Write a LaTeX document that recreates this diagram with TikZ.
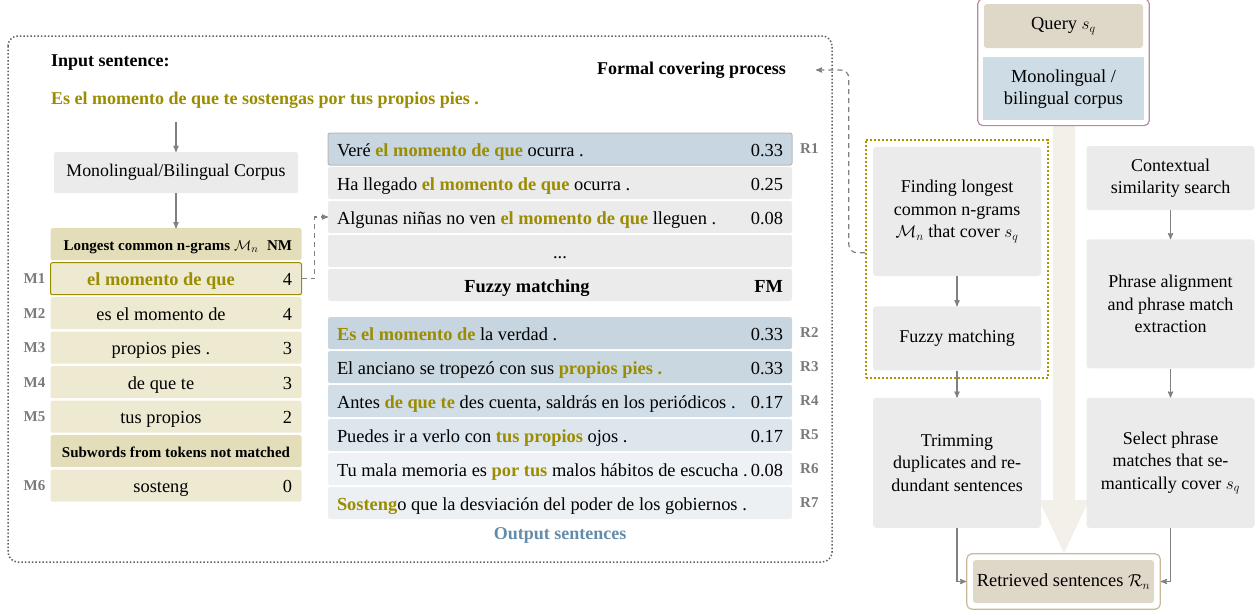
\documentclass[tikz,border=0pt]{standalone}
\usepackage{fontspec}
\setmainfont{Liberation Serif}
\usepackage{tikz}
\usetikzlibrary{arrows,positioning,fit}

\definecolor{boxgray}{RGB}{235,235,235}
\definecolor{ngramtxt}{RGB}{155,140,0}
\definecolor{ngrambg}{RGB}{238,234,210}
\definecolor{ngramhead}{RGB}{227,222,185}
\definecolor{tagtxt}{RGB}{122,122,122}
\definecolor{linegray}{RGB}{128,128,128}
\definecolor{simhi}{RGB}{199,214,224}
\definecolor{out2}{RGB}{198,213,223}
\definecolor{out3}{RGB}{201,215,225}
\definecolor{out4}{RGB}{210,222,231}
\definecolor{out5}{RGB}{221,230,237}
\definecolor{out6}{RGB}{238,242,246}
\definecolor{out7}{RGB}{236,240,243}
\definecolor{outtxt}{RGB}{100,140,170}
\definecolor{querybg}{RGB}{223,216,200}
\definecolor{corpusbg}{RGB}{205,220,229}
\definecolor{queryborder}{RGB}{180,140,155}
\definecolor{retborder}{RGB}{200,185,155}
\definecolor{flowarrow}{RGB}{243,240,234}
\definecolor{fmdots}{RGB}{170,150,0}

% matched words are set bold in olive
\newcommand{\matchw}[1]{\textbf{\color{ngramtxt}#1}}
% n-gram cell: n-gram in the middle, count on the right
\newcommand{\ngtext}[2]{\makebox[202pt]{#1}\makebox[30pt][r]{#2}}
% sentence cell: sentence left, score right
\newcommand{\fmtext}[2]{\hbox to 446pt{#1\hfill#2}}

\begin{document}
\begin{tikzpicture}[x=1pt,y=-1pt,>=stealth',
  font=\fontsize{18.4}{22.5}\selectfont,
  lbl/.style={inner sep=0pt},
  headlbl/.style={inner sep=0pt,font=\fontsize{18}{21}\selectfont\bfseries},
  rowtag/.style={inner sep=0pt,text=tagtxt,font=\fontsize{15}{18}\selectfont\bfseries},
  graybox/.style={fill=boxgray,rounded corners=2pt},
  ngrow/.style={fill=ngrambg,rounded corners=2pt,minimum width=251,minimum height=32,
    text height=15pt,text depth=1pt,inner sep=2pt,outer sep=0pt},
  nghead/.style={ngrow,fill=ngramhead,font=\fontsize{15}{18}\selectfont\bfseries,
    text height=13pt,text depth=1pt},
  fmrow/.style={fill=boxgray,rounded corners=2pt,minimum width=464,minimum height=32,
    text height=15pt,text depth=1pt,inner xsep=9pt,inner ysep=2pt,outer sep=0pt},
  flowbox/.style={graybox,rounded corners=3pt,minimum width=168,align=center,
    font=\fontsize{18}{22.5}\selectfont},
  link/.style={->,draw=linegray,line width=1.2pt},
  dashlink/.style={link,dash pattern=on 5pt off 4pt}]

  \useasboundingbox (0,0) rectangle (1258,613);

  % wide arrow behind the retrieval pipeline
  \fill[flowarrow] (1053,126) -- (1075,126) -- (1075,500) -- (1089,500)
    -- (1064,553) -- (1039,500) -- (1053,500) -- cycle;

  % formal covering example
  \draw[gray!75!black,dotted,line width=1.5pt,rounded corners=10pt] (8,36) rectangle (832,562);

  \node (insent) [headlbl,anchor=west] at (51,63) {Input sentence:};
  \node (inq) [headlbl,anchor=west] at (51,100)
    {\matchw{Es el momento de que te sostengas por tus propios pies .}};
  \node (fcp) [headlbl,anchor=east] at (786,70) {Formal covering process};

  \coordinate (inqdrop) at (176,122);
  \node (lcorpus) [graybox,minimum width=244,minimum height=41,font=\fontsize{17.8}{21}\selectfont]
    at (176,172.5) {Monolingual/Bilingual Corpus};

  % n-gram table
  \node (nghd) [nghead,below=35pt of lcorpus]
    {\ngtext{Longest common n-grams $\mathcal{M}_n$}{NM}};
  \node (m1) [ngrow,draw=ngramtxt,line width=1pt,below=2.5pt of nghd]
    {\ngtext{\matchw{el momento de que}}{4}};
  \foreach \ng/\nm [count=\i from 2] in
    {es el momento de/4, propios pies ./3, de que te/3, tus propios/2}
  {
    \pgfmathtruncatemacro\prev{\i-1}
    \node (m\i) [ngrow,below=2.5pt of m\prev] {\ngtext{\ng}{\nm}};
  }
  \node (subhd) [nghead,below=2.5pt of m5] {Subwords from tokens not matched};
  \node (m6) [ngrow,below=2.5pt of subhd] {\ngtext{sosteng}{0}};
  \foreach \i in {1,...,6}
    \node [rowtag,left=5pt of m\i] {M\i};

  % fuzzy matching table
  \node (r1) [fmrow,draw=gray!55,line width=1pt,fill=simhi,anchor=north west] at (328,133)
    {\fmtext{Veré \matchw{el momento de que} ocurra .}{0.33}};
  \node (fm2) [fmrow,below=2pt of r1]
    {\fmtext{Ha llegado \matchw{el momento de que} ocurra .}{0.25}};
  \node (fm3) [fmrow,below=2pt of fm2]
    {\fmtext{Algunas niñas no ven \matchw{el momento de que} lleguen .}{0.08}};
  \node (fmdots) [fmrow,below=2pt of fm3] {...};
  \node (fmhd) [fmrow,below=2pt of fmdots]
    {\fmtext{\makebox[380pt]{\bfseries Fuzzy matching}}{\bfseries FM}};

  % output sentences
  \node (r2) [fmrow,fill=out2,below=16pt of fmhd]
    {\fmtext{\matchw{Es el momento de} la verdad .}{0.33}};
  \foreach \snt/\sc/\bg [count=\i from 3] in
    {{El anciano se tropezó con sus \matchw{propios pies .}}/0.33/out3,
     {Antes \matchw{de que te} des cuenta, saldrás en los periódicos .}/0.17/out4,
     {Puedes ir a verlo con \matchw{tus propios} ojos .}/0.17/out5,
     {Tu mala memoria es \matchw{por tus} malos hábitos de escucha .}/0.08/out6,
     {\matchw{Sosteng}o que la desviación del poder de los gobiernos .}//out7}
  {
    \pgfmathtruncatemacro\prev{\i-1}
    \node (r\i) [fmrow,fill=\bg,below=2pt of r\prev] {\fmtext{\snt}{\sc}};
  }
  \foreach \i in {1,...,7}
    \node [rowtag,right=8pt of r\i] {R\i};
  \node (outlbl) [headlbl,text=outtxt,below=8pt of r7] {Output sentences};

  \draw[link] (inqdrop) -- (lcorpus);
  \draw[link] (lcorpus) -- (nghd);
  \draw[dashlink] (m1.east) -- ++(13,0) |- (fm3.west);

  % retrieval pipeline
  \node (query) [fill=querybg,rounded corners=3pt,minimum width=159,minimum height=44]
    at (1063.5,26) {Query $s_q$};
  \node (corpus) [fill=corpusbg,minimum width=161,minimum height=63,align=center,
    below=9pt of query] {Monolingual /\\bilingual corpus};
  \node (qframe) [draw=queryborder,rounded corners=5pt,line width=1.2pt,
    fit=(query)(corpus),inner sep=5pt] {};

  \node (find) [flowbox,minimum height=129] at (957,211.5)
    {Finding longest\\common n-grams\\$\mathcal{M}_n$ that cover $s_q$};
  \node (fuzzy) [flowbox,minimum height=64,below=30pt of find] {Fuzzy matching};
  \node (trim) [flowbox,minimum height=130,below=27pt of fuzzy]
    {Trimming\\duplicates and re-\\dundant sentences};
  \node (fmframe) [draw=fmdots,dotted,line width=2pt,fit=(find)(fuzzy),inner sep=7pt] {};

  \node (ctx) [flowbox,minimum height=64] at (1170.5,178) {Contextual\\similarity search};
  \node (align) [flowbox,minimum height=129,below=29pt of ctx]
    {Phrase alignment\\and phrase match\\extraction};
  \node (select) [flowbox,minimum height=130,below=29pt of align]
    {Select phrase\\matches that se-\\mantically cover $s_q$};

  \node (ret) [fill=querybg,rounded corners=3pt,minimum width=181,minimum height=43]
    at (1063.5,581.5) {Retrieved sentences $\mathcal{R}_n$};
  \node (retframe) [draw=retborder,rounded corners=5pt,line width=1.2pt,
    fit=(ret),inner sep=6pt] {};

  \draw[link] (find) -- (fuzzy);
  \draw[link] (fuzzy) -- (trim);
  \draw[link] (ctx) -- (align);
  \draw[link] (align) -- (select);
  \draw[link] (trim) |- (retframe);
  \draw[link] (select) |- (retframe);

  \coordinate (fcptip) at ([xshift=30pt]fcp.east);
  \draw[dashlink,rounded corners=8pt] ([yshift=6pt]fmframe.west) -- ++(-16,0) |- (fcptip);
\end{tikzpicture}
\end{document}
